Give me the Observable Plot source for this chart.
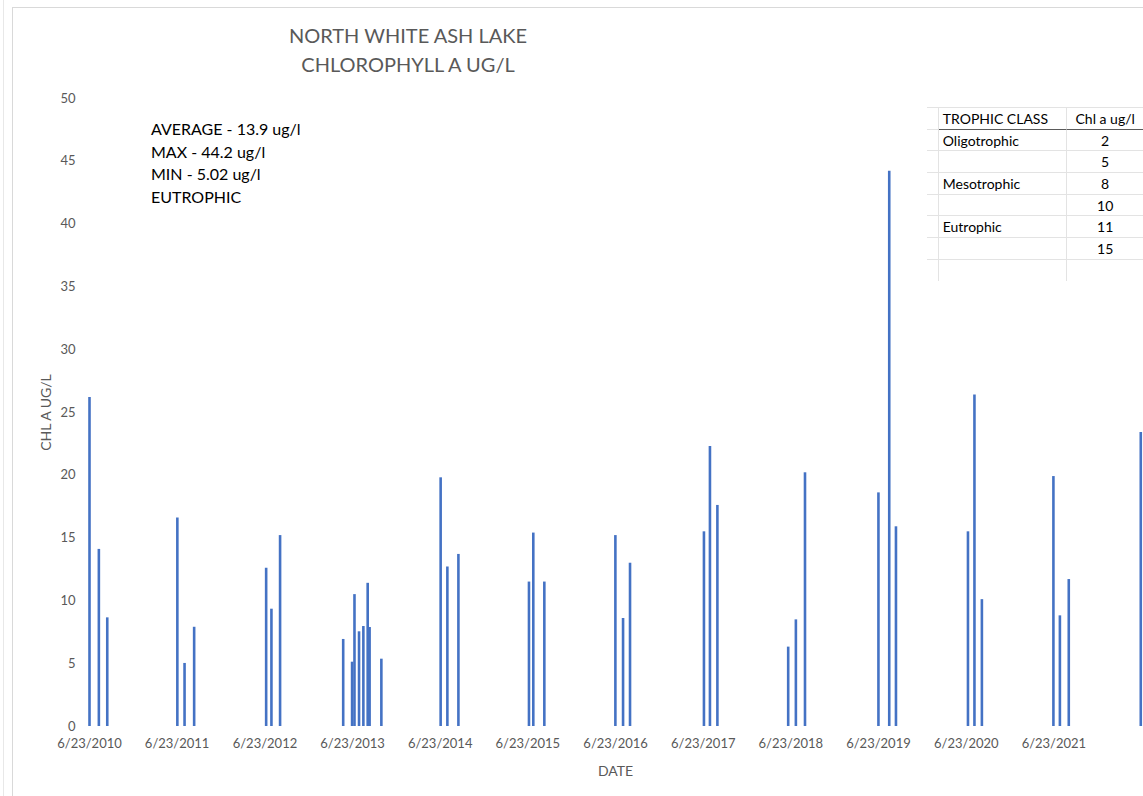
<!DOCTYPE html>
<html>
<head>
<meta charset="utf-8">
<script src="https://cdn.jsdelivr.net/npm/d3@7"></script>
<script src="https://cdn.jsdelivr.net/npm/@observablehq/plot@0.6"></script>
<style>
  html, body { margin: 0; padding: 0; background: #fff; }
  body { width: 1143px; height: 796px; position: relative; overflow: hidden; font-family: Lato, "Open Sans", sans-serif; }
  #frame { position: absolute; left: 12px; top: 7px; width: 1140px; height: 800px; border: 1px solid #d9d9d9; box-sizing: border-box; }
  #edge { position: absolute; left: 3px; top: 0; width: 1px; height: 796px; background: #e8e8e8; }
  #chart { position: absolute; left: 0; top: 0; }
  #chart svg g[aria-label="y-axis label"] text, #chart svg g[aria-label="x-axis label"] text { font-size: 14px; }
  #title { position: absolute; left: 208px; top: 21px; width: 400px; text-align: center; font-size: 20px; line-height: 29px; color: #595959; }
  #stats { position: absolute; left: 151px; top: 118px; font-size: 16px; line-height: 22.5px; color: #000; }
  #trophic { position: absolute; left: 927px; top: 100px; width: 216px; height: 181px; background: #fff; }
  #trophic table { border-collapse: separate; border-spacing: 0; font-size: 14px; color: #000; margin-top: 7px; }
  #trophic td { height: 20.7px; padding: 0; border-top: 1px solid #e3e3e3; white-space: nowrap; }
  #trophic td.c0 { width: 11px; border-right: 1px solid #e3e3e3; }
  #trophic td.c1 { width: 124px; padding-left: 4px; border-right: 1px solid #e3e3e3; }
  #trophic td.c2 { width: 76px; text-align: center; }
  #trophic tr.first td.c1, #trophic tr.first td.c2 { border-top: 1px solid #5a5a5a; }
</style>
</head>
<body>
<div id="edge"></div>
<div id="frame"></div>
<div id="chart"></div>
<div id="title"></div>
<div id="stats"></div>
<div id="trophic"></div>
<script>
// ---- data ----
const sampleDates = [
  "2010-06-23","2010-08-01","2010-09-05",
  "2011-06-24","2011-07-24","2011-09-02",
  "2012-06-28","2012-07-20","2012-08-25",
  "2013-05-15","2013-06-21","2013-07-01","2013-07-20","2013-08-07","2013-08-25","2013-09-02","2013-10-21",
  "2014-06-25","2014-07-23","2014-09-07",
  "2015-06-28","2015-07-16","2015-08-31",
  "2016-06-22","2016-07-24","2016-08-22",
  "2017-06-26","2017-07-21","2017-08-21",
  "2018-06-12","2018-07-14","2018-08-21",
  "2019-06-23","2019-08-07","2019-09-04",
  "2020-06-30","2020-07-27","2020-08-27",
  "2021-06-21","2021-07-18","2021-08-24",
  "2022-06-20"
];
const chlValues = [
  26.2, 14.1, 8.65,
  16.6, 5.02, 7.9,
  12.6, 9.34, 15.2,
  6.93, 5.12, 10.5, 7.54, 7.96, 11.4, 7.88, 5.36,
  19.8, 12.7, 13.7,
  11.5, 15.4, 11.5,
  15.2, 8.6, 13.0,
  15.5, 22.3, 17.6,
  6.32, 8.49, 20.2,
  18.6, 44.2, 15.9,
  15.5, 26.4, 10.1,
  19.9, 8.81, 11.7,
  23.4
];
const xTickDates = ["2010-06-23","2011-06-23","2012-06-23","2013-06-23","2014-06-23","2015-06-23",
  "2016-06-23","2017-06-23","2018-06-23","2019-06-23","2020-06-23","2021-06-23"];
const yTicks = [0, 5, 10, 15, 20, 25, 30, 35, 40, 45, 50];
const titleLines = ["NORTH WHITE ASH LAKE", "CHLOROPHYLL A UG/L"];
const statsLines = ["AVERAGE - 13.9 ug/l", "MAX - 44.2 ug/l", "MIN - 5.02 ug/l", "EUTROPHIC"];
const trophicHeader = ["TROPHIC CLASS", "Chl a ug/l"];
const trophicClasses = ["Oligotrophic", "", "Mesotrophic", "", "Eutrophic", "", ""];
const trophicValues = ["2", "5", "8", "10", "11", "15", ""];

// ---- chart ----
const parse = d3.utcParse("%Y-%m-%d");
const data = sampleDates.map((d, i) => ({date: parse(d), value: chlValues[i]}));
const ticks = xTickDates.map(parse);

const chart = Plot.plot({
  width: 1143,
  height: 796,
  marginLeft: 89,
  marginRight: 2,
  marginTop: 98,
  marginBottom: 70,
  style: {fontFamily: "Lato, 'Open Sans', sans-serif", fontSize: "13px", color: "#595959", background: "transparent"},
  x: {
    type: "utc",
    domain: [parse("2010-06-23"), parse("2022-06-23")],
    ticks: ticks,
    tickFormat: d3.utcFormat("%-m/%-d/%Y"),
    tickSize: 0,
    tickPadding: 12,
    label: "DATE",
    labelArrow: "none",
    labelAnchor: "center",
    labelOffset: 49
  },
  y: {
    domain: [0, 50],
    ticks: yTicks,
    tickSize: 0,
    tickPadding: 14,
    label: "CHL A UG/L",
    labelArrow: "none",
    labelAnchor: "center",
    labelOffset: 48
  },
  marks: [
    Plot.gridY(yTicks, {stroke: "#d9d9d9", strokeOpacity: 1, strokeWidth: 1.3, x1: 88, x2: 1143}),
    Plot.ruleX(data, {x: "date", y1: 0, y2: "value", stroke: "#4472c4", strokeWidth: 2.6})
  ]
});
document.getElementById("chart").appendChild(chart);

// ---- texts ----
document.getElementById("title").innerHTML = titleLines.map(t => `<div>${t}</div>`).join("");
document.getElementById("stats").innerHTML = statsLines.map(t => `<div>${t}</div>`).join("");

let html = `<table><tr class="head"><td class="c0"></td><td class="c1">${trophicHeader[0]}</td><td class="c2">${trophicHeader[1]}</td></tr>`;
trophicClasses.forEach((c, i) => {
  html += `<tr${i === 0 ? ' class="first"' : ''}><td class="c0"></td><td class="c1">${c}</td><td class="c2">${trophicValues[i]}</td></tr>`;
});
html += `</table>`;
document.getElementById("trophic").innerHTML = html;
</script>
</body>
</html>
